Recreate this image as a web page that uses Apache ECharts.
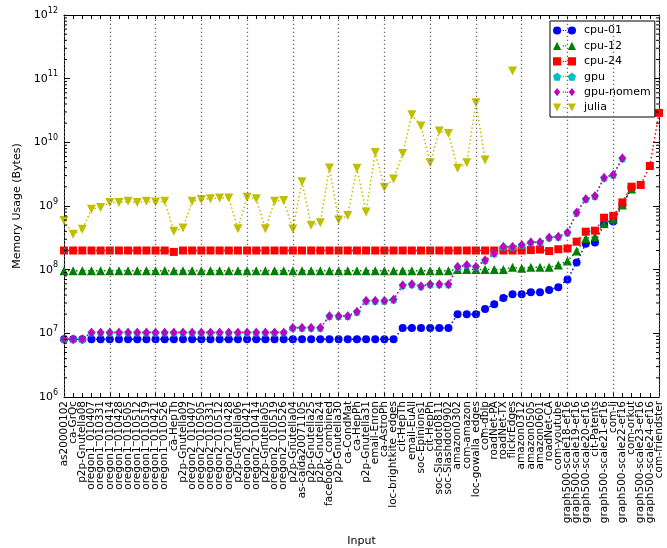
<!DOCTYPE html>
<html>
<head>
<meta charset="utf-8">
<script src="https://cdn.jsdelivr.net/npm/echarts@6/dist/echarts.min.js"></script>
<style>
  html, body { margin: 0; padding: 0; background: #fff; }
  #chart { width: 667px; height: 548px; }
</style>
</head>
<body>
<div id="chart"></div>
<script>
// Input graphs, in plotting order
const categories = [
  'as20000102', 'ca-GrQc', 'p2p-Gnutella08', 'oregon1_010407', 'oregon1_010331',
  'oregon1_010414', 'oregon1_010428', 'oregon1_010505', 'oregon1_010512', 'oregon1_010519',
  'oregon1_010421', 'oregon1_010526', 'ca-HepTh', 'p2p-Gnutella09', 'oregon2_010407',
  'oregon2_010505', 'oregon2_010331', 'oregon2_010512', 'oregon2_010428', 'p2p-Gnutella06',
  'oregon2_010421', 'oregon2_010414', 'p2p-Gnutella05', 'oregon2_010519', 'oregon2_010526',
  'p2p-Gnutella04', 'as-caida20071105', 'p2p-Gnutella25', 'p2p-Gnutella24', 'facebook_combined',
  'p2p-Gnutella30', 'ca-CondMat', 'ca-HepPh', 'p2p-Gnutella31', 'email-Enron',
  'ca-AstroPh', 'loc-brightkite_edges', 'cit-HepTh', 'email-EuAll', 'soc-Epinions1',
  'cit-HepPh', 'soc-Slashdot0811', 'soc-Slashdot0902', 'amazon0302', 'com-amazon',
  'loc-gowalla_edges', 'com-dblp', 'roadNet-PA', 'roadNet-TX', 'flickrEdges',
  'amazon0312', 'amazon0505', 'amazon0601', 'roadNet-CA', 'com-youtube',
  'graph500-scale18-ef16', 'graph500-scale19-ef16', 'graph500-scale20-ef16', 'cit-Patents', 'graph500-scale21-ef16',
  'com-lj', 'graph500-scale22-ef16', 'com-orkut', 'graph500-scale23-ef16', 'graph500-scale24-ef16',
  'com-friendster'
];

// Memory usage in bytes (null = no measurement)
const cpu01 = [
  8.05e6, 8.05e6, 8.05e6, 8.05e6, 8.05e6, 8.05e6, 8.05e6, 8.05e6, 8.05e6, 8.05e6,
  8.05e6, 8.05e6, 8.05e6, 8.05e6, 8.05e6, 8.05e6, 8.05e6, 8.05e6, 8.05e6, 8.05e6,
  8.05e6, 8.05e6, 8.05e6, 8.05e6, 8.05e6, 8.05e6, 8.05e6, 8.05e6, 8.05e6, 8.05e6,
  8.05e6, 8.05e6, 8.05e6, 8.05e6, 8.05e6, 8.05e6, 8.05e6, 1.21e7, 1.21e7, 1.21e7,
  1.21e7, 1.21e7, 1.21e7, 2.0e7, 2.0e7, 2.0e7, 2.41e7, 2.85e7, 3.6e7, 4.1e7,
  4.1e7, 4.4e7, 4.4e7, 4.8e7, 5.3e7, 7.0e7, 1.3e8, 2.55e8, 2.66e8, 5.15e8,
  5.7e8, 1.04e9, 1.95e9, null, null, null
];
const cpu12 = [
  9.6e7, 9.6e7, 9.6e7, 9.6e7, 9.6e7, 9.6e7, 9.6e7, 9.6e7, 9.6e7, 9.6e7,
  9.6e7, 9.6e7, 9.6e7, 9.6e7, 9.6e7, 9.6e7, 9.6e7, 9.6e7, 9.6e7, 9.6e7,
  9.6e7, 9.6e7, 9.6e7, 9.6e7, 9.6e7, 9.6e7, 9.6e7, 9.6e7, 9.6e7, 9.6e7,
  9.6e7, 9.6e7, 9.6e7, 9.6e7, 9.6e7, 9.6e7, 9.6e7, 9.6e7, 9.6e7, 9.6e7,
  9.6e7, 9.6e7, 9.6e7, 1.01e8, 1.01e8, 1.01e8, 1.01e8, 1.01e8, 1.01e8, 1.09e8,
  1.05e8, 1.09e8, 1.09e8, 1.09e8, 1.18e8, 1.37e8, 1.96e8, 3.1e8, 3.3e8, 5.3e8,
  6.2e8, 1.04e9, 1.85e9, null, null, null
];
const cpu24 = [
  2.0e8, 2.0e8, 2.0e8, 2.0e8, 2.0e8, 2.0e8, 2.0e8, 2.0e8, 2.0e8, 2.0e8,
  2.0e8, 2.0e8, 1.9e8, 2.0e8, 2.0e8, 2.0e8, 2.0e8, 2.0e8, 2.0e8, 2.0e8,
  2.0e8, 2.0e8, 2.0e8, 2.0e8, 2.0e8, 2.0e8, 2.0e8, 2.0e8, 2.0e8, 2.0e8,
  2.0e8, 2.0e8, 2.0e8, 2.0e8, 2.0e8, 2.0e8, 2.0e8, 2.0e8, 2.0e8, 2.0e8,
  2.0e8, 2.0e8, 2.0e8, 2.0e8, 2.0e8, 2.0e8, 2.0e8, 2.0e8, 2.0e8, 2.0e8,
  2.0e8, 2.03e8, 2.07e8, 1.96e8, 2.09e8, 2.15e8, 2.75e8, 3.95e8, 4.1e8, 6.55e8,
  7.0e8, 1.14e9, 2.01e9, 2.14e9, 4.25e9, 2.9e10
];
const gpu = [
  8.1e6, 8.1e6, 8.1e6, 1.03e7, 1.03e7, 1.03e7, 1.03e7, 1.03e7, 1.03e7, 1.03e7,
  1.03e7, 1.03e7, 1.03e7, 1.03e7, 1.03e7, 1.03e7, 1.03e7, 1.03e7, 1.03e7, 1.03e7,
  1.03e7, 1.03e7, 1.03e7, 1.03e7, 1.03e7, 1.22e7, 1.22e7, 1.22e7, 1.22e7, 1.87e7,
  1.87e7, 1.87e7, 2.19e7, 3.25e7, 3.25e7, 3.25e7, 3.4e7, 5.68e7, 5.9e7, 5.5e7,
  5.9e7, 5.9e7, 5.9e7, 1.11e8, 1.18e8, 1.11e8, 1.4e8, 1.81e8, 2.29e8, 2.29e8,
  2.45e8, 2.69e8, 2.69e8, 3.2e8, 3.3e8, 3.85e8, 7.9e8, 1.29e9, 1.44e9, 2.78e9,
  3.1e9, 5.6e9, null, null, null, null
];
const gpuNomem = [
  8.1e6, 8.1e6, 8.1e6, 1.03e7, 1.03e7, 1.03e7, 1.03e7, 1.03e7, 1.03e7, 1.03e7,
  1.03e7, 1.03e7, 1.03e7, 1.03e7, 1.03e7, 1.03e7, 1.03e7, 1.03e7, 1.03e7, 1.03e7,
  1.03e7, 1.03e7, 1.03e7, 1.03e7, 1.03e7, 1.22e7, 1.22e7, 1.22e7, 1.22e7, 1.87e7,
  1.87e7, 1.87e7, 2.19e7, 3.25e7, 3.25e7, 3.25e7, 3.4e7, 5.68e7, 5.9e7, 5.5e7,
  5.9e7, 5.9e7, 5.9e7, 1.11e8, 1.18e8, 1.11e8, 1.4e8, 1.81e8, 2.29e8, 2.29e8,
  2.45e8, 2.69e8, 2.69e8, 3.2e8, 3.3e8, 3.85e8, 7.9e8, 1.29e9, 1.44e9, 2.78e9,
  3.1e9, 5.6e9, null, null, null, null
];
const julia = [
  5.9e8, 3.6e8, 4.3e8, 8.9e8, 9.5e8, 1.13e9, 1.13e9, 1.19e9, 1.13e9, 1.19e9,
  1.16e9, 1.19e9, 4.0e8, 4.5e8, 1.19e9, 1.27e9, 1.3e9, 1.33e9, 1.33e9, 4.4e8,
  1.37e9, 1.3e9, 4.4e8, 1.19e9, 1.22e9, 4.35e8, 2.41e9, 5.0e8, 5.47e8, 3.95e9,
  6.0e8, 7.1e8, 3.9e9, 8.05e8, 6.9e9, 1.96e9, 2.65e9, 6.7e9, 2.7e10, 1.8e10,
  4.8e9, 1.51e10, 1.38e10, 3.9e9, 4.8e9, 4.2e10, 5.3e9, null, null, 1.32e11,
  null, null, null, null, null, null, null, null, null, null,
  null, null, null, null, null, null
];

// Log-axis decades and the minor tick multipliers between them
const yMin = 1e6;
const yMax = 1e12;
const minorMultipliers = [2, 3, 4, 5, 6, 7, 8, 9];
// A dotted vertical grid line every this many inputs
const gridEvery = 5;

const FONT = 'DejaVu Sans';

const minorTickValues = [];
for (let d = yMin; d < yMax; d *= 10) {
  minorMultipliers.forEach(m => minorTickValues.push([0, m * d]));
}
const gridCategories = categories.filter((c, i) => i % gridEvery === 0);

// Marker shapes
const PENTAGON = 'path://M5,0L10,3.8L8.1,9.6L1.9,9.6L0,3.8Z';
const DOWN_TRI = 'path://M0,0L10,0L5,9Z';

// Legend icons: two markers joined by a dotted stroke
const DOTS = ' M10,3.6h1.2v1.2h-1.2Z M12.4,3.6h1.2v1.2h-1.2Z';
const ICONS = {
  circle: 'path://M0,4.2a4.2,4.2 0 1,0 8.4,0a4.2,4.2 0 1,0 -8.4,0Z M15.2,4.2a4.2,4.2 0 1,0 8.4,0a4.2,4.2 0 1,0 -8.4,0Z' + DOTS,
  triangle: 'path://M0,8.4L4.2,0L8.4,8.4Z M15.2,8.4L19.4,0L23.6,8.4Z' + DOTS,
  square: 'path://M0,0h8.4v8.4h-8.4Z M15.2,0h8.4v8.4h-8.4Z' + DOTS,
  pentagon: 'path://M4.2,0L8.4,3.2L6.8,8.4L1.6,8.4L0,3.2Z M19.4,0L23.6,3.2L22,8.4L16.8,8.4L15.2,3.2Z' + DOTS,
  diamond: 'path://M4.2,0L7.4,4.2L4.2,8.4L1,4.2Z M19.4,0L22.6,4.2L19.4,8.4L16.2,4.2Z M0,4.2h0.01v0.01h-0.01Z M23.6,4.2h0.01v0.01h-0.01Z' + DOTS,
  down: 'path://M0,0L8.4,0L4.2,8.4Z M15.2,0L23.6,0L19.4,8.4Z' + DOTS
};

function lineSeries(name, data, color, symbol, size, extra) {
  return Object.assign({
    name: name,
    type: 'line',
    data: data,
    symbol: symbol,
    symbolSize: size,
    showSymbol: true,
    showAllSymbol: true,
    connectNulls: false,
    animation: false,
    itemStyle: { color: color, borderWidth: 0 },
    lineStyle: { color: color, width: 1.5, type: [1.5, 2.5] },
    emphasis: { disabled: true },
    z: 3
  }, extra || {});
}

const tickLabelRich = {
  b: { fontFamily: FONT, fontSize: 11, color: '#000', lineHeight: 17 },
  s: { fontFamily: FONT, fontSize: 8, color: '#000', verticalAlign: 'top', lineHeight: 17 }
};

function expLabel(v) {
  const e = Math.round(Math.log10(v));
  return '{b|10}{s|' + e + '}';
}

const axisBlack = { lineStyle: { color: '#000', width: 1 } };

const option = {
  animation: false,
  backgroundColor: '#fff',
  grid: {
    left: 64, right: 8, top: 15, bottom: 151,
    containLabel: false,
    outerBoundsMode: 'none'
  },
  legend: {
    orient: 'vertical',
    left: 550,
    top: 21,
    padding: [3, 4, 3, 3],
    itemWidth: 23,
    itemHeight: 9,
    itemGap: 2.4,
    backgroundColor: '#fff',
    borderColor: '#000',
    borderWidth: 1,
    borderRadius: 0,
    selectedMode: false,
    textStyle: { fontFamily: FONT, fontSize: 11, color: '#000', lineHeight: 13, padding: [0, 0, 0, 3] },
    data: [
      { name: 'cpu-01', icon: ICONS.circle },
      { name: 'cpu-12', icon: ICONS.triangle },
      { name: 'cpu-24', icon: ICONS.square },
      { name: 'gpu', icon: ICONS.pentagon },
      { name: 'gpu-nomem', icon: ICONS.diamond },
      { name: 'julia', icon: ICONS.down }
    ]
  },
  xAxis: [
    {
      type: 'category',
      data: categories,
      boundaryGap: false,
      position: 'bottom',
      axisLine: Object.assign({ show: true, onZero: false }, axisBlack),
      axisTick: { show: true, inside: true, length: 4, interval: 0, lineStyle: { color: '#000' } },
      axisLabel: {
        interval: 0, rotate: 90, margin: 4, hideOverlap: false,
        fontFamily: FONT, fontSize: 10.5, color: '#000'
      },
      splitLine: { show: false },
      name: 'Input',
      nameLocation: 'middle',
      nameGap: 139,
      nameTextStyle: { fontFamily: FONT, fontSize: 11, color: '#000' }
    },
    {
      type: 'category',
      data: categories,
      boundaryGap: false,
      position: 'top',
      axisLine: Object.assign({ show: true, onZero: false }, axisBlack),
      axisTick: { show: true, inside: true, length: 4, interval: 0, lineStyle: { color: '#000' } },
      axisLabel: { show: false },
      splitLine: { show: false }
    }
  ],
  yAxis: [
    {
      type: 'log',
      logBase: 10,
      min: yMin,
      max: yMax,
      position: 'left',
      axisLine: Object.assign({ show: true, onZero: false }, axisBlack),
      axisTick: { show: true, inside: true, length: 6, lineStyle: { color: '#000' } },
      axisLabel: {
        margin: 6, formatter: expLabel, rich: tickLabelRich,
        showMinLabel: true, showMaxLabel: true
      },
      splitLine: { show: false },
      name: 'Memory Usage (Bytes)',
      nameLocation: 'middle',
      nameRotate: 90,
      nameGap: 40,
      nameTextStyle: { fontFamily: FONT, fontSize: 11, color: '#000' }
    },
    {
      type: 'log',
      logBase: 10,
      min: yMin,
      max: yMax,
      position: 'right',
      axisLine: Object.assign({ show: true, onZero: false }, axisBlack),
      axisTick: { show: true, inside: true, length: 6, lineStyle: { color: '#000' } },
      axisLabel: { show: false },
      splitLine: { show: false }
    }
  ],
  series: [
    {
      // dotted vertical grid, every fifth input
      name: 'grid',
      type: 'line',
      data: [],
      silent: true,
      animation: false,
      z: 1,
      markLine: {
        silent: true,
        animation: false,
        symbol: ['none', 'none'],
        label: { show: false },
        lineStyle: { color: '#666666', width: 1.3, type: [1.3, 2.7] },
        emphasis: { disabled: true },
        data: gridCategories.map(c => ({ xAxis: c }))
      }
    },
    lineSeries('cpu-01', cpu01, '#0000ff', 'circle', 8),
    lineSeries('cpu-12', cpu12, '#008000', 'triangle', 9),
    lineSeries('cpu-24', cpu24, '#ff0000', 'rect', 8),
    lineSeries('gpu', gpu, '#00bfbf', PENTAGON, 8),
    lineSeries('gpu-nomem', gpuNomem, '#bf00bf', 'diamond', [7, 10]),
    lineSeries('julia', julia, '#bfbf00', DOWN_TRI, 9),
    {
      // minor ticks of the log axis, on both the left and the right frame edge
      type: 'custom',
      silent: true,
      animation: false,
      z: 10,
      data: minorTickValues,
      encode: { x: 0, y: 1 },
      renderItem: function (params, api) {
        const y = api.coord([0, api.value(1)])[1];
        const cs = params.coordSys;
        const style = { stroke: '#000', lineWidth: 1 };
        return {
          type: 'group',
          children: [
            { type: 'line', shape: { x1: cs.x, y1: y, x2: cs.x + 3, y2: y }, style: style },
            { type: 'line', shape: { x1: cs.x + cs.width - 3, y1: y, x2: cs.x + cs.width, y2: y }, style: style }
          ]
        };
      }
    }
  ]
};

const chart = echarts.init(document.getElementById('chart'), null, { renderer: 'canvas' });
chart.setOption(option);
</script>
</body>
</html>
